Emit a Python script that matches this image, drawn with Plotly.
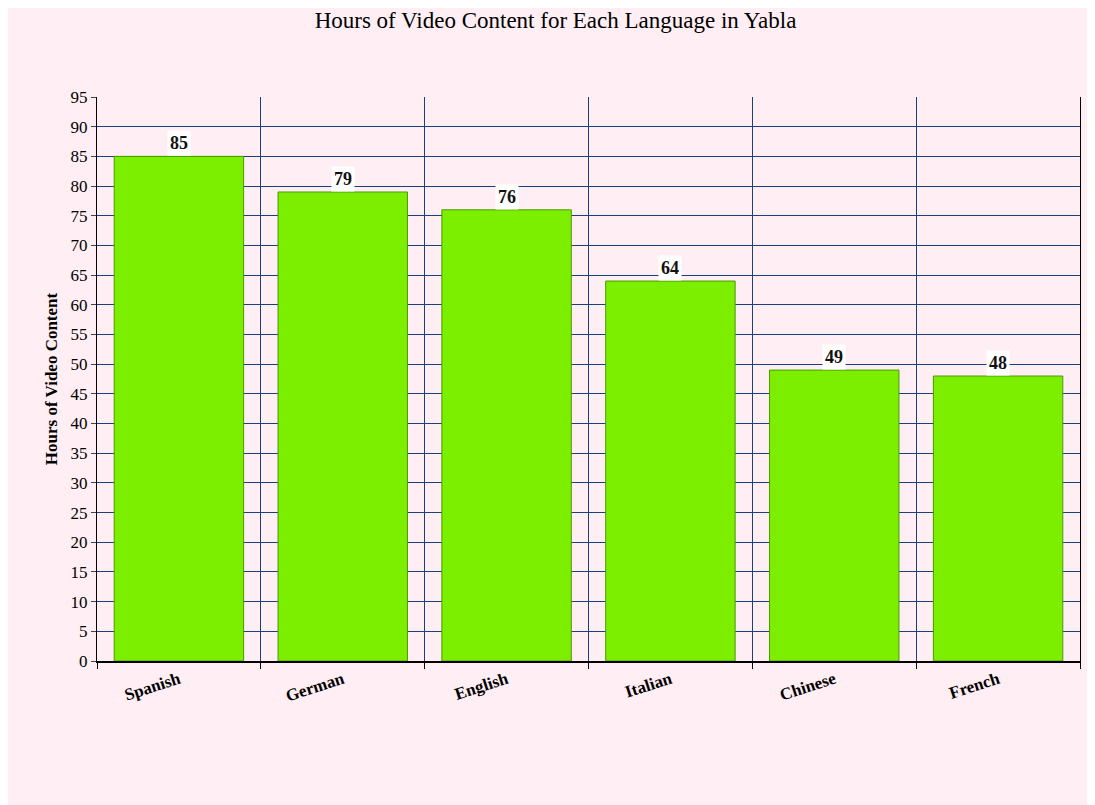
import plotly.graph_objects as go

languages = ["Spanish", "German", "English", "Italian", "Chinese", "French"]
hours = [85, 79, 76, 64, 49, 48]

xs = list(range(len(languages)))
fig = go.Figure(go.Bar(x=xs, y=hours, width=0.79, marker=dict(color="#7CEE00", line=dict(color="#4a9a00", width=1))))
for x, v in zip(xs, hours):
    fig.add_annotation(x=x, y=v, text=f"<b>{v}</b>", showarrow=False, yshift=13, bgcolor="white",
                       font=dict(family="Liberation Serif", size=18, color="#111"), borderpad=2)
fig.update_layout(
    width=1095, height=805, paper_bgcolor="#FFEEF4", plot_bgcolor="#FFEEF4",
    margin=dict(l=89, r=23, t=89, b=152),
    font=dict(family="Liberation Serif", size=16, color="black"),
    title=dict(text="Hours of Video Content for Each Language in Yabla", x=0.5, y=0.995, yanchor="top",
               font=dict(size=23)),
    showlegend=False,
    xaxis=dict(range=[-0.5, 5.5], tickvals=xs, ticktext=[f"<b>{l}</b>" for l in languages], tickangle=-18,
               tickfont=dict(size=17),
               showgrid=False, showline=True, linecolor="black", linewidth=2, mirror=False,
               ticks="", minor=dict(tick0=0.5, dtick=1, showgrid=True, gridcolor="#1a3f7a", gridwidth=1,
                                    ticks="outside", ticklen=6, tickcolor="black"),
               zeroline=False),
    yaxis=dict(range=[0, 95], dtick=5, gridcolor="#1a3f7a", gridwidth=1, ticks="outside", ticklen=5,
               showline=True, linecolor="black", mirror=True, zeroline=False,
               title=dict(text="<b>Hours of Video Content</b>", font=dict(size=17), standoff=8),
               tickfont=dict(size=17)),
)
fig.write_html("out.html")
